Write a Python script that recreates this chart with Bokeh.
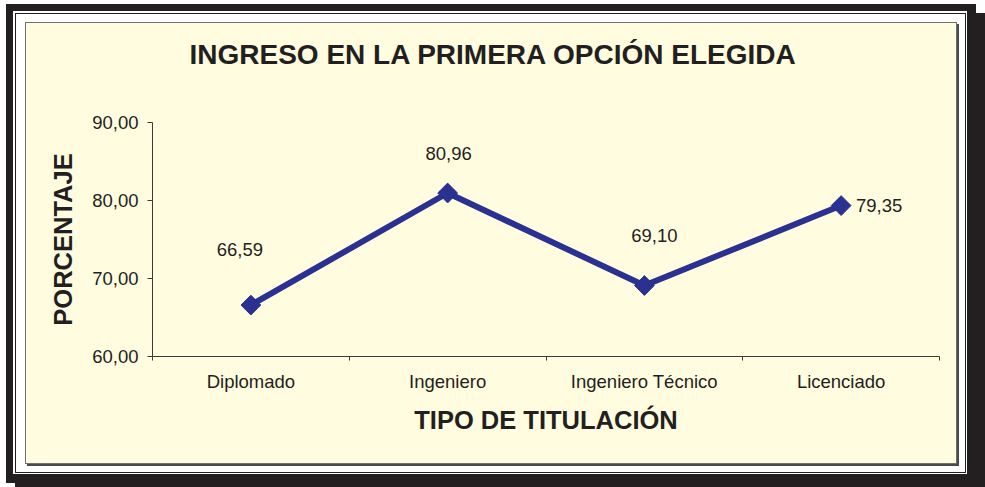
import math
from bokeh.plotting import figure
from bokeh.models import Range1d, FixedTicker, ColumnDataSource, Title
from bokeh.core.properties import value
from bokeh.embed import file_html
from bokeh.resources import INLINE

# ---- data ----
categories = ["Diplomado", "Ingeniero", "Ingeniero Técnico", "Licenciado"]
percentages = [66.59, 80.96, 69.10, 79.35]
y_ticks = [60, 70, 80, 90]
title_text = "INGRESO EN LA PRIMERA OPCIÓN ELEGIDA"
x_title = "TIPO DE TITULACIÓN"
y_title = "PORCENTAJE"

# ---- styling ----
FONT = "Liberation Sans"
NAVY = "#2B3190"
CREAM = "#FFFCDF"
TXT = "#231F20"
AXIS = "#3A3A3A"
BLACK = "#231F20"
label_dx = [-11, 1, 10, 38]
label_dy = [-56, -40, -50, 0]

def fmt(v):
    return f"{v:.2f}".replace(".", ",")

xs = [i + 0.5 for i in range(len(categories))]
labels = [fmt(v) for v in percentages]

W, H = 985, 487

# decorative frame drawn as CSS background layers (top layer first): (color, x, y, w, h)
layers = [
    (CREAM, 26, 23, 930, 440),     # cream panel
    ("#707070", 25, 22, 932, 442), # panel border
    ("#4A4A4A", 27, 24, 932, 442), # panel shadow
    ("white", 16, 14, 949, 458),   # white inside
    (BLACK, 15, 13, 951, 460),     # thin inner line
    ("white", 13, 11, 954, 463),   # white gap
    (BLACK, 6, 4, 970, 479),       # outer band
    (BLACK, 15, 13, 975, 480),     # drop shadow
]
bg_css = {
    "background-color": "white",
    "background-image": ", ".join(f"linear-gradient({c}, {c})" for c, *_ in layers),
    "background-position": ", ".join(f"{x}px {y}px" for _, x, y, _w, _h in layers),
    "background-size": ", ".join(f"{w}px {h}px" for *_, w, h in layers),
    "background-repeat": "no-repeat",
}
css_rule = ":host {" + "; ".join(f"{k}: {v}" for k, v in bg_css.items()) + "}"

p = figure(width=W, height=H, output_backend="svg", toolbar_location=None,
           x_range=Range1d(0, len(categories)), y_range=Range1d(y_ticks[0], y_ticks[-1]),
           min_border_left=152, min_border_right=46, min_border_top=122, min_border_bottom=131,
           styles=bg_css, stylesheets=[css_rule])
p.border_fill_color = None
p.background_fill_color = None
p.outline_line_color = None
p.grid.visible = False

# spacer between the title and the plot frame
p.add_layout(Title(text=" ", text_font_size="1px", standoff=48), "above")

# title
p.title.text = title_text
p.title.align = "left"
p.title.offset = 37
p.title.vertical_align = "top"
p.title.standoff = 0
p.title.text_font = FONT
p.title.text_font_size = "28px"
p.title.text_font_style = "bold"
p.title.text_color = TXT

# axes
xa = p.xaxis[0]
xa.ticker = FixedTicker(ticks=xs, minor_ticks=list(range(len(categories) + 1)))
xa.major_label_overrides = {x: c for x, c in zip(xs, categories)}
xa.major_tick_out = 0
xa.major_tick_in = 0
xa.minor_tick_out = 4
xa.minor_tick_in = 0
xa.major_label_standoff = 10
xa.axis_label = x_title
xa.axis_label_standoff = 11

ya = p.yaxis[0]
ya.ticker = FixedTicker(ticks=y_ticks, minor_ticks=[])
ya.major_label_overrides = {v: fmt(v) for v in y_ticks}
ya.major_tick_out = 5
ya.major_tick_in = 0
ya.minor_tick_out = 0
ya.minor_tick_in = 0
ya.major_label_standoff = 9
ya.axis_label = y_title
ya.axis_label_standoff = 12

for ax in (xa, ya):
    ax.axis_line_color = AXIS
    ax.major_tick_line_color = AXIS
    ax.minor_tick_line_color = AXIS
    ax.major_label_text_font = FONT
    ax.major_label_text_font_size = "18.5px"
    ax.major_label_text_color = TXT
    ax.axis_label_text_font = FONT
    ax.axis_label_text_font_size = "25.5px"
    ax.axis_label_text_font_style = "bold"
    ax.axis_label_text_color = TXT

# series
src = ColumnDataSource(dict(x=xs, y=percentages, lab=labels, dx=label_dx, dy=label_dy))
p.line("x", "y", source=src, line_color=NAVY, line_width=6)
p.scatter("x", "y", source=src, marker="square", size=14, angle=math.pi / 4,
          fill_color=NAVY, line_color=NAVY)
p.text("x", "y", text="lab", source=src, x_offset="dx", y_offset="dy",
       text_font=value(FONT), text_font_size="18.5px", text_align="center",
       text_baseline="middle", text_color=TXT)

open("out.html", "w").write(file_html(p, INLINE))
